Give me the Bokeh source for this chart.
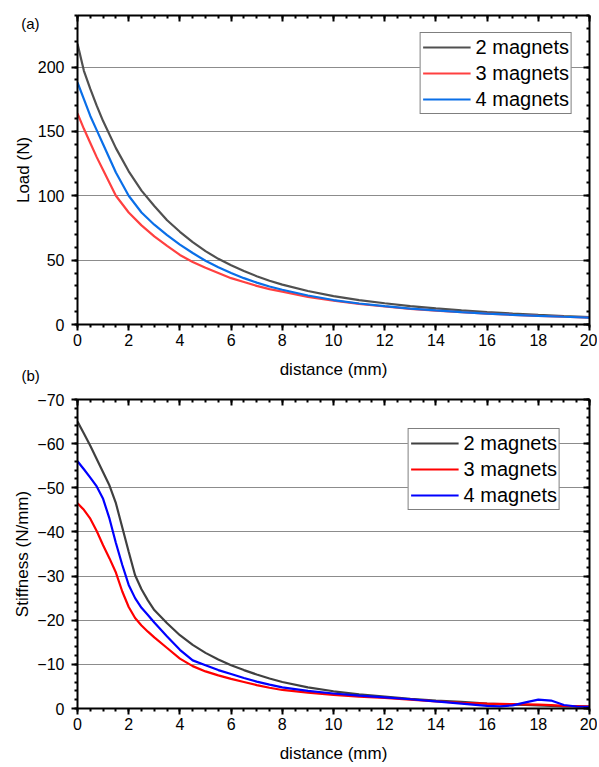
from bokeh.plotting import figure
from bokeh.layouts import column
from bokeh.models import (Range1d, LinearAxis, SingleIntervalTicker, FixedTicker, Legend, LegendItem,
                          Title, CustomJSTickFormatter)
from bokeh.embed import file_html
from bokeh.resources import INLINE

# ---------------- data ----------------
load_x = [0, 0.25, 0.5, 0.75, 1, 1.5, 2, 2.5, 3, 3.5, 4, 4.5, 5, 5.5, 6, 6.5, 7, 7.5, 8,
          9, 10, 11, 12, 13, 14, 15, 16, 17, 18, 19, 20]
load_2 = [218, 197, 183, 170, 158, 137, 119, 104, 92, 81, 72, 64, 57, 51, 46, 41.5, 37.5, 34, 31,
          26, 22, 19, 16.5, 14.3, 12.5, 11, 9.7, 8.5, 7.5, 6.6, 5.8]
load_3 = [164, 152, 141, 130, 120, 100, 87, 77, 68.5, 61, 54, 48.5, 44, 40, 36, 33, 30, 27.5, 25.5,
          21.5, 18.5, 16, 14, 12.2, 10.8, 9.5, 8.4, 7.5, 6.7, 6.0, 5.4]
load_4 = [188, 175, 162, 151, 140, 118, 100, 87, 77.5, 69.5, 62, 55.5, 49.5, 44.5, 40, 36, 32.5, 29.5, 27,
          22.5, 19, 16.3, 14.2, 12.4, 10.9, 9.6, 8.5, 7.5, 6.7, 6.0, 5.4]

st_x = [0, 0.25, 0.5, 0.75, 1, 1.25, 1.5, 1.75, 2, 2.25, 2.5, 2.75, 3, 3.5, 4, 4.5, 5, 5.5, 6, 6.5, 7, 7.5, 8,
        9, 10, 11, 12, 13, 14, 15, 16, 16.5, 17, 17.5, 18, 18.5, 19, 19.5, 20]
st_2 = [-65, -62.3, -59.5, -56.5, -53.5, -50.5, -46.5, -41, -35.5, -30.2, -27, -24.5, -22.3, -19.3, -16.6, -14.4, -12.6, -11.1, -9.8, -8.7, -7.7, -6.8, -6.0,
        -4.8, -3.9, -3.2, -2.7, -2.2, -1.8, -1.5, -1.1, -1.0, -0.9, -0.8, -0.7, -0.6, -0.5, -0.45, -0.4]
st_3 = [-46.5, -45, -43, -40.2, -37, -34, -30.8, -26.5, -23, -20.5, -18.8, -17.4, -16.1, -13.7, -11.3, -9.6, -8.4, -7.5, -6.7, -6.0, -5.3, -4.7, -4.2,
        -3.6, -3.1, -2.7, -2.4, -2.0, -1.6, -1.3, -1.1, -1.05, -1.0, -0.95, -0.9, -0.75, -0.6, -0.55, -0.5]
st_4 = [-56, -54.2, -52.3, -50.3, -47.5, -43, -37.5, -32.5, -28, -25, -22.8, -21.2, -19.5, -16.3, -13.3, -10.9, -9.8, -8.7, -7.8, -6.9, -6.1, -5.4, -4.8,
        -4.0, -3.4, -2.9, -2.5, -2.1, -1.6, -1.1, -0.6, -0.5, -0.7, -1.4, -2.0, -1.8, -0.8, -0.45, -0.4]

labels = ["2 magnets", "3 magnets", "4 magnets"]
FONT = "Liberation Sans"


def style(p, xlabel, ylabel, y_interval, y_minor, x_standoff, tag=None, tag_y=None, neg_labels=False):
    xa = p.below[0]
    ya = p.left[0]
    xa.ticker = SingleIntervalTicker(interval=2, num_minor_ticks=4)
    ya.ticker = SingleIntervalTicker(interval=y_interval, num_minor_ticks=y_minor)
    xa.axis_label = xlabel
    for ax in (xa, ya):
        ax.axis_line_width = 2
        ax.axis_line_color = "black"
        ax.major_tick_line_width = 2
        ax.minor_tick_line_width = 2
        ax.major_tick_out = 6
        ax.major_tick_in = 0
        ax.minor_tick_out = 3
        ax.minor_tick_in = 0
        ax.major_label_text_font = FONT
        ax.major_label_text_font_size = "16px"
        ax.major_label_text_color = "black"
        ax.axis_label_text_font = FONT
        ax.axis_label_text_font_size = "17px"
        ax.axis_label_text_font_style = "normal"
        ax.axis_label_text_color = "black"
    xa.major_label_standoff = 3
    ya.major_label_standoff = 7
    xa.axis_label_standoff = x_standoff
    if neg_labels:
        ya.formatter = CustomJSTickFormatter(
            code="return tick < 0 ? '\u2212' + Math.abs(tick) : tick.toString();")
    # outer left axis: carries the axis title and the panel tag
    outer = LinearAxis(axis_label=ylabel)
    outer.axis_line_color = None
    outer.major_tick_line_color = None
    outer.minor_tick_line_color = None
    outer.major_tick_out = 0
    outer.minor_tick_out = 0
    outer.major_label_text_font = FONT
    outer.major_label_text_font_size = "15px"
    outer.major_label_text_color = "black"
    outer.axis_label_text_font = FONT
    outer.axis_label_text_font_size = "17px"
    outer.axis_label_text_font_style = "normal"
    outer.axis_label_text_color = "black"
    if tag is not None:
        outer.ticker = FixedTicker(ticks=[tag_y], minor_ticks=[])
        outer.formatter = CustomJSTickFormatter(code="return '%s';" % tag)
        outer.major_label_standoff = -5
        outer.axis_label_standoff = -15
    else:
        outer.ticker = FixedTicker(ticks=[], minor_ticks=[])
        outer.major_label_standoff = 0
        outer.axis_label_standoff = 3
    p.add_layout(outer, "left")
    # mirrored axes, ticks inward, no labels
    top = LinearAxis(ticker=SingleIntervalTicker(interval=2, num_minor_ticks=4))
    right = LinearAxis(ticker=SingleIntervalTicker(interval=y_interval, num_minor_ticks=y_minor))
    for ax in (top, right):
        ax.axis_line_width = 2
        ax.axis_line_color = "black"
        ax.major_tick_line_width = 2
        ax.minor_tick_line_width = 2
        ax.major_tick_in = 6
        ax.major_tick_out = 0
        ax.minor_tick_in = 3
        ax.minor_tick_out = 0
        ax.formatter = CustomJSTickFormatter(code="return '';")
        ax.major_label_text_font_size = "1px"
        ax.major_label_standoff = 0
    p.add_layout(top, "above")
    p.add_layout(right, "right")
    p.xgrid.grid_line_color = None
    p.ygrid.grid_line_color = "#8c8c8c"
    p.ygrid.grid_line_width = 1
    p.outline_line_color = None


def legend_style(lg):
    lg.border_line_color = "black"
    lg.border_line_width = 1
    lg.background_fill_color = "white"
    lg.background_fill_alpha = 1
    lg.label_text_font = FONT
    lg.label_text_font_size = "20px"
    lg.label_text_color = "black"
    lg.glyph_width = 48
    lg.glyph_height = 24
    lg.label_height = 24
    lg.label_standoff = 5
    lg.spacing = 2
    lg.padding = 2


# ---------------- panel (a) ----------------
p1 = figure(width=597, height=391, output_backend="svg", toolbar_location=None,
            x_range=Range1d(0, 20), y_range=Range1d(0, 240),
            min_border_left=77, min_border_right=8, min_border_top=15, min_border_bottom=67)
style(p1, "distance (mm)", "Load (N)", 50, 5, 11, tag="(a)", tag_y=234)
colors_a = ["#505050", "#ff4040", "#0a6fe8"]
ra = [p1.line(load_x, ys, line_color=c, line_width=2.2)
      for ys, c in zip([load_2, load_3, load_4], colors_a)]
leg1 = Legend(items=[LegendItem(label=l, renderers=[r]) for l, r in zip(labels, ra)],
              location="top_right", margin=17)
legend_style(leg1)
p1.add_layout(leg1)
# tag of the lower panel, pulled up into the row of the x-axis title
tb = Title(text="(b)", align="left", offset=-56, vertical_align="top", standoff=-30,
           text_font=FONT, text_font_size="15px", text_font_style="normal", text_color="black")
p1.add_layout(tb, "below")

# ---------------- panel (b) ----------------
p2 = figure(width=597, height=376, output_backend="svg", toolbar_location=None,
            x_range=Range1d(0, 20), y_range=Range1d(0, -70),
            min_border_left=77, min_border_right=8, min_border_top=8, min_border_bottom=59)
style(p2, "distance (mm)", "Stiffness (N/mm)", 10, 5, 11, neg_labels=True)
colors_b = ["#404040", "#ff0000", "#0000ff"]
rb = [p2.line(st_x, ys, line_color=c, line_width=2.2)
      for ys, c in zip([st_2, st_3, st_4], colors_b)]
leg2 = Legend(items=[LegendItem(label=l, renderers=[r]) for l, r in zip(labels, rb)],
              location="top_right", margin=29)
legend_style(leg2)
p2.add_layout(leg2)

layout = column(p1, p2, spacing=0)
open("out.html", "w").write(file_html(layout, INLINE))
